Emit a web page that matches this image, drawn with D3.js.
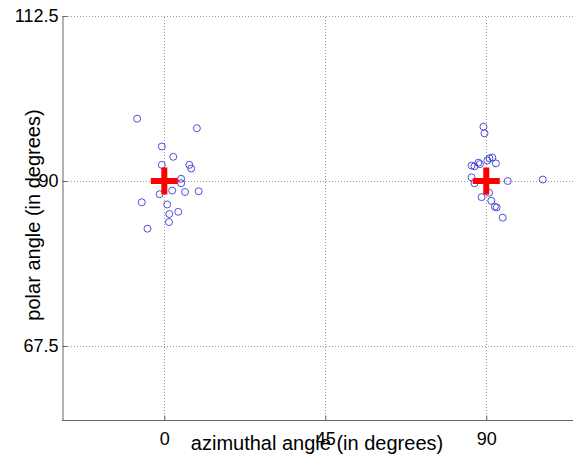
<!DOCTYPE html>
<meta charset="utf-8">
<title>polar vs azimuthal</title>
<script src="https://d3js.org/d3.v7.min.js"></script>
<style>
  body { margin: 0; background: #fff; }
  text { font-family: "Liberation Sans", Arial, sans-serif; fill: #000; }
</style>
<body>
<div id="chart"></div>
<script>
// tick values
var xTicks = [0, 45, 90];
var yTicks = [67.5, 90, 112.5];

// measured points (azimuthal, polar) in degrees
var azimuthal = [
  -7.6, 9.1, -0.7, 2.5, -0.7, 7.0, 7.5, 4.7, 4.7, 2.2, -1.3, 5.8, 9.6, -6.3, 0.8, 3.9, 1.4, 1.3, -4.7,
  89.2, 89.5, 85.9, 86.7, 87.8, 88.2, 90.9, 91.7, 92.7, 90.3, 85.9, 86.7, 96.0, 105.8, 90.8, 88.7, 91.4, 92.4, 92.9, 94.6
];
var polar = [
  98.5, 97.2, 94.7, 93.3, 92.2, 92.2, 91.7, 90.3, 89.7, 88.7, 88.2, 88.5, 88.6, 87.1, 86.8, 85.8, 85.5, 84.4, 83.5,
  97.4, 96.5, 92.1, 92.0, 92.5, 92.3, 93.1, 93.2, 92.4, 92.8, 90.5, 89.7, 90.0, 90.2, 88.4, 87.8, 87.3, 86.5, 86.4, 85.0
];

// cluster centres (red crosses)
var centreAz = [0, 90];
var centrePolar = [90, 90];

var W = 573, H = 457;
var margin = {top: 16, right: -7, bottom: 37, left: 62};

var svg = d3.select("#chart").append("svg")
  .attr("width", W)
  .attr("height", H);

var x = d3.scaleLinear()
  .domain([-28.6, 116.2])
  .range([margin.left, W - margin.right]);

var y = d3.scaleLinear()
  .domain([57.41, 112.5])
  .range([H - margin.bottom, margin.top]);

var grid = svg.append("g")
  .attr("stroke", "#9a9a9a")
  .attr("stroke-width", 1)
  .attr("stroke-dasharray", "1,2");

grid.selectAll(".gx")
  .data(xTicks)
  .join("line")
  .attr("x1", d => Math.round(x(d)) + 0.5)
  .attr("x2", d => Math.round(x(d)) + 0.5)
  .attr("y1", y.range()[0])
  .attr("y2", y.range()[1]);

grid.selectAll(".gy")
  .data(yTicks)
  .join("line")
  .attr("y1", d => Math.round(y(d)) + 0.5)
  .attr("y2", d => Math.round(y(d)) + 0.5)
  .attr("x1", x.range()[0])
  .attr("x2", W);

// axes
var xAxis = svg.append("g")
  .attr("transform", "translate(0," + (Math.round(y.range()[0]) + 0.5) + ")")
  .call(d3.axisBottom(x).tickValues(xTicks).tickSizeInner(-5).tickSizeOuter(0).tickPadding(12));

var yAxis = svg.append("g")
  .attr("transform", "translate(" + (margin.left + 0.5) + ",0)")
  .call(d3.axisLeft(y).tickValues(yTicks).tickSizeInner(-5).tickSizeOuter(0).tickPadding(4)
    .tickFormat(d => d));

[xAxis, yAxis].forEach(function(a) {
  a.selectAll(".domain").attr("stroke", "#666");
  a.selectAll(".tick line").attr("stroke", "#666");
  a.selectAll("text")
    .style("font-family", "'Liberation Sans', Arial, sans-serif")
    .attr("font-size", "18px")
    .attr("fill", "#000");
});
xAxis.select(".domain").attr("d", "M" + margin.left + ",0H" + W);

// data points
svg.append("g")
  .selectAll("circle")
  .data(azimuthal)
  .join("circle")
  .attr("cx", (d, i) => x(d))
  .attr("cy", (d, i) => y(polar[i]))
  .attr("r", 3.5)
  .attr("fill", "none")
  .attr("stroke", "#3c3cd2")
  .attr("stroke-width", 0.9);

// red crosses
var cross = svg.append("g")
  .attr("stroke", "#ff0000")
  .attr("stroke-width", 6);

cross.selectAll(".h")
  .data(centreAz)
  .join("line")
  .attr("x1", d => x(d) - 13.5)
  .attr("x2", d => x(d) + 13.5)
  .attr("y1", (d, i) => y(centrePolar[i]))
  .attr("y2", (d, i) => y(centrePolar[i]));

cross.selectAll(".v")
  .data(centreAz)
  .join("line")
  .attr("x1", d => x(d))
  .attr("x2", d => x(d))
  .attr("y1", (d, i) => y(centrePolar[i]) - 13.5)
  .attr("y2", (d, i) => y(centrePolar[i]) + 13.5);

// axis titles
svg.append("text")
  .attr("x", 317)
  .attr("y", 450)
  .attr("text-anchor", "middle")
  .attr("font-size", "20px")
  .text("azimuthal angle (in degrees)");

svg.append("text")
  .attr("transform", "translate(40,215) rotate(-90)")
  .attr("text-anchor", "middle")
  .attr("font-size", "20px")
  .text("polar angle (in degrees)");
</script>
</body>
